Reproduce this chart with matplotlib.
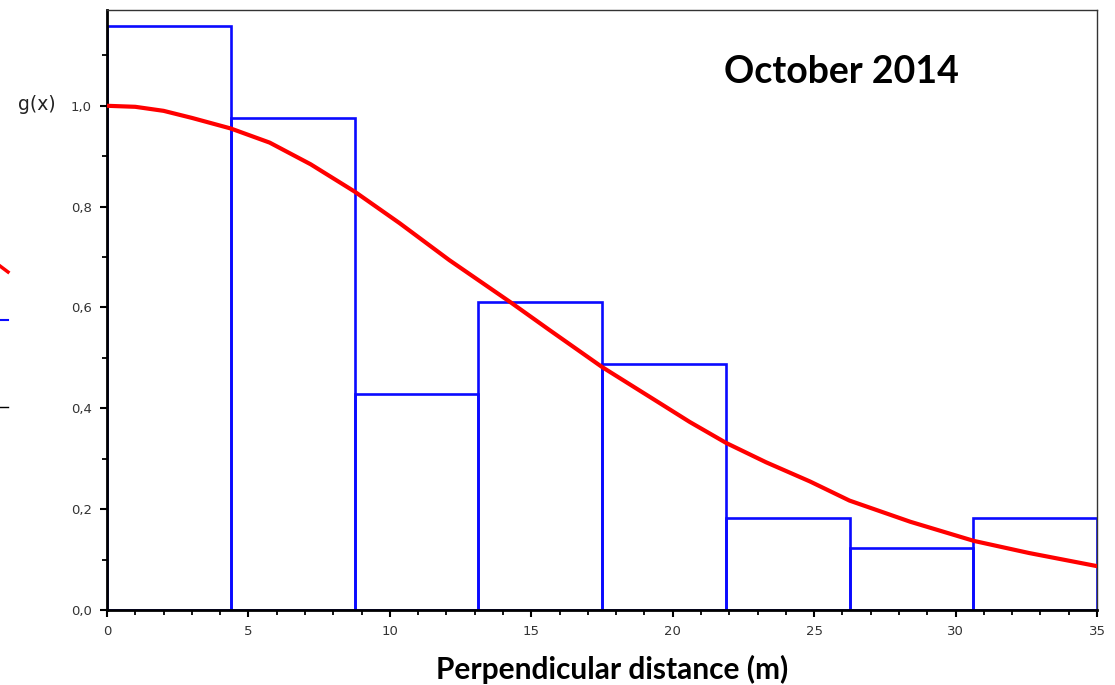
import numpy as np
import matplotlib
matplotlib.use("Agg")
import matplotlib.pyplot as plt
from matplotlib.lines import Line2D

# histogram of scaled detections (8 bins over 0-35 m)
bin_edges = [0, 4.375, 8.75, 13.125, 17.5, 21.875, 26.25, 30.625, 35]
bin_heights = [1.159, 0.976, 0.429, 0.611, 0.488, 0.183, 0.123, 0.183]

# fitted detection function g(x)
curve_x = [0, 1, 2, 3, 4.375, 5.75, 7.2, 8.75, 10.35, 12.1, 14.3, 15.65, 17.5,
           19.55, 20.6, 21.9, 23.3, 24.85, 26.25, 28.4, 30.65, 32.6, 35]
curve_y = [1.0, 0.998, 0.99, 0.976, 0.955, 0.927, 0.884, 0.83, 0.767, 0.694, 0.609,
           0.555, 0.482, 0.41, 0.373, 0.331, 0.293, 0.255, 0.217, 0.175, 0.137, 0.113, 0.087]

x_ticks = [0, 5, 10, 15, 20, 25, 30, 35]
y_ticks = [0.0, 0.2, 0.4, 0.6, 0.8, 1.0]
y_tick_labels = ["0,0", "0,2", "0,4", "0,6", "0,8", "1,0"]

fig = plt.figure(figsize=(11.15, 6.85), dpi=100)
ax = fig.add_axes([107/1115, 1 - 610/685, (1097-107)/1115, 600/685])

widths = np.diff(bin_edges)
ax.bar(bin_edges[:-1], bin_heights, width=widths, align="edge", fill=False,
       edgecolor="#0a0aff", linewidth=1.9, zorder=2)
ax.plot(curve_x, curve_y, color="#ff0000", linewidth=3.0, solid_joinstyle="round", zorder=3)

ax.set_xlim(0, 35)
ax.set_ylim(0, 1.19)
ax.set_xticks(x_ticks)
ax.set_xticklabels([str(v) for v in x_ticks])
ax.set_xticks(np.arange(0, 35, 1), minor=True)
ax.set_yticks(y_ticks)
ax.set_yticklabels(y_tick_labels)
ax.set_yticks(np.arange(0.1, 1.15, 0.2), minor=True)

ax.tick_params(which="major", direction="out", length=5, width=1.5, color="black",
               labelsize=9.5, labelcolor="#333333", pad=6)
ax.tick_params(which="minor", direction="out", length=3.5, width=1.3, color="black")

for side in ["left", "bottom"]:
    ax.spines[side].set_linewidth(2.0)
    ax.spines[side].set_color("black")
for side in ["top", "right"]:
    ax.spines[side].set_linewidth(1.0)
    ax.spines[side].set_color("#333333")

fig.text(37/1115, 1 - 104/685, "g(x)", fontsize=13.5, color="#222222",
         ha="center", va="center")
fig.text(841/1115, 1 - 72/685, "October 2014", fontsize=27, fontweight="bold",
         family="Lato", ha="center", va="center")
fig.text(612/1115, 1 - 669/685, "Perpendicular distance (m)", fontsize=21.5,
         fontweight="bold", family="Lato", ha="center", va="center")

# fragments of the neighbouring legend cut off at the left edge
fig.add_artist(Line2D([0, 8/1115], [1 - 266/685, 1 - 272/685], color="#ff0000",
                      linewidth=2.5, transform=fig.transFigure))
fig.add_artist(Line2D([0, 8/1115], [1 - 320/685, 1 - 320/685], color="#0a0aff",
                      linewidth=1.5, transform=fig.transFigure))
fig.add_artist(Line2D([0, 8/1115], [1 - 407/685, 1 - 407/685], color="black",
                      linewidth=1.0, transform=fig.transFigure))

fig.savefig("out.png", dpi=100, facecolor="white")
